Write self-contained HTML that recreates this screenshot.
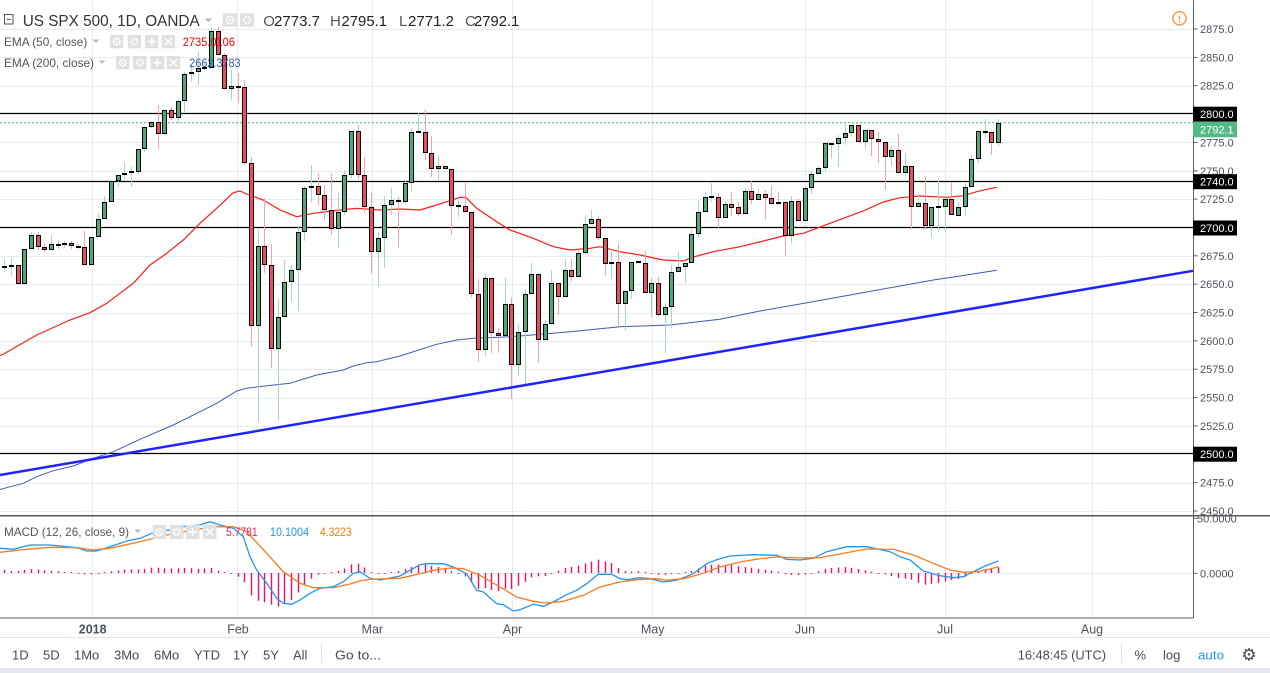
<!DOCTYPE html>
<html><head><meta charset="utf-8">
<style>
html,body{margin:0;padding:0;background:#fff;overflow:hidden;}
svg{display:block;font-family:"Liberation Sans",Arial,sans-serif;}
</style></head><body>
<svg id="s" width="1270" height="673" viewBox="0 0 1270 673" xmlns="http://www.w3.org/2000/svg">
<rect width="1270" height="673" fill="#ffffff"/>
<g id="grid"></g>
<g id="hlines"></g>
<g id="ind"></g>
<g id="candles"></g>
<g id="trend"></g>
<g id="macd"></g>

<!-- price axis -->
<line x1="1193.5" y1="0" x2="1193.5" y2="618" stroke="#5d5d5d" stroke-width="1"/>
<g id="ticks" stroke="#5d5d5d" stroke-width="1"></g>
<g font-size="11" fill="#4c525e">
<text x="1200" y="33">2875.0</text>
<text x="1200" y="61.4">2850.0</text>
<text x="1200" y="89.7">2825.0</text>
<text x="1200" y="146.4">2775.0</text>
<text x="1200" y="174.8">2750.0</text>
<text x="1200" y="203.1">2725.0</text>
<text x="1200" y="259.8">2675.0</text>
<text x="1200" y="288.2">2650.0</text>
<text x="1200" y="316.5">2625.0</text>
<text x="1200" y="344.9">2600.0</text>
<text x="1200" y="373.2">2575.0</text>
<text x="1200" y="401.6">2550.0</text>
<text x="1200" y="429.9">2525.0</text>
<text x="1200" y="486.6">2475.0</text>
<text x="1200" y="515">2450.0</text>
<text x="1197" y="522.3">50.0000</text>
<text x="1200" y="577.3">0.0000</text>
</g>
<rect x="1193" y="106.7" width="44" height="15" fill="#000"/>
<text x="1200" y="118.2" font-size="11" fill="#fff">2800.0</text>
<rect x="1193" y="121.7" width="44" height="15.6" fill="#53b987"/>
<text x="1200" y="133.4" font-size="11" fill="#fff">2792.1</text>
<rect x="1193" y="174.2" width="44" height="15" fill="#000"/>
<text x="1200" y="185.7" font-size="11" fill="#fff">2740.0</text>
<rect x="1193" y="220.5" width="44" height="15" fill="#000"/>
<text x="1200" y="232" font-size="11" fill="#fff">2700.0</text>
<rect x="1193" y="446.7" width="44" height="15" fill="#000"/>
<text x="1200" y="458.2" font-size="11" fill="#fff">2500.0</text>

<!-- warning icon -->
<circle cx="1179.5" cy="18.3" r="6.6" fill="#fff" stroke="#f7993b" stroke-width="1.4"/>
<text x="1179.5" y="22.3" font-size="10" font-weight="bold" fill="#f7993b" text-anchor="middle">!</text>

<!-- pane separators -->
<line x1="0" y1="515.8" x2="1270" y2="515.8" stroke="#5a5a5a" stroke-width="1.5"/>
<line x1="0" y1="618" x2="1193.5" y2="618" stroke="#5d5d5d" stroke-width="1"/>
<line x1="0" y1="637.5" x2="1270" y2="637.5" stroke="#e0e3eb" stroke-width="1"/>
<rect x="0" y="668" width="1270" height="5" fill="#e4e7ec"/>

<!-- header -->
<rect x="4.5" y="14.5" width="8.5" height="9.5" fill="none" stroke="#555" stroke-width="1"/>
<line x1="6.5" y1="19.3" x2="11" y2="19.3" stroke="#555" stroke-width="1"/>
<text x="22.7" y="26" font-size="15.5" fill="#333" textLength="177" lengthAdjust="spacingAndGlyphs">US SPX 500, 1D, OANDA</text>
<polygon points="205,18.5 212,18.5 208.5,22" fill="#b0b0b0"/>
<rect x="222.7" y="13.3" width="14.6" height="13.4" fill="#e0e0e0"/>
<circle cx="230" cy="20" r="3.6" fill="none" stroke="#fff" stroke-width="1.4"/><circle cx="230" cy="20" r="1.2" fill="#fff"/>
<rect x="240" y="13.3" width="14" height="13.4" fill="#e0e0e0"/>
<circle cx="247" cy="20" r="3.2" fill="none" stroke="#fff" stroke-width="2.2" stroke-dasharray="1.6 1"/>
<g font-size="15">
<text x="263.3" y="26" fill="#555">O</text><text x="274" y="26" fill="#222" textLength="46" lengthAdjust="spacingAndGlyphs">2773.7</text>
<text x="330" y="26" fill="#555">H</text><text x="341.5" y="26" fill="#222" textLength="45.5" lengthAdjust="spacingAndGlyphs">2795.1</text>
<text x="399" y="26" fill="#555">L</text><text x="408" y="26" fill="#222" textLength="46" lengthAdjust="spacingAndGlyphs">2771.2</text>
<text x="465" y="26" fill="#555">C</text><text x="474" y="26" fill="#222" textLength="45.3" lengthAdjust="spacingAndGlyphs">2792.1</text>
</g>

<g font-size="12" fill="#555">
<text x="4" y="46" textLength="83.3" lengthAdjust="spacingAndGlyphs">EMA (50, close)</text>
<text x="4" y="67" textLength="90" lengthAdjust="spacingAndGlyphs">EMA (200, close)</text>
</g>
<polygon points="92.7,39.5 99.3,39.5 96,43" fill="#b8b8b8"/>
<polygon points="98.7,60.5 105.3,60.5 102,64" fill="#b8b8b8"/>
<g id="icons"></g>
<text x="182.7" y="46" font-size="12" fill="#ff0000" textLength="52.3" lengthAdjust="spacingAndGlyphs">2735.0106</text>
<text x="189.3" y="67" font-size="12" fill="#3a5bb0" textLength="51.3" lengthAdjust="spacingAndGlyphs">2662.3783</text>

<text x="4" y="536" font-size="12" fill="#555" textLength="125" lengthAdjust="spacingAndGlyphs">MACD (12, 26, close, 9)</text>
<polygon points="134.5,529.5 141,529.5 137.7,533" fill="#b8b8b8"/>
<text x="226" y="536" font-size="12" fill="#e91e63" textLength="31.7" lengthAdjust="spacingAndGlyphs">5.7781</text>
<text x="270" y="536" font-size="12" fill="#2196f3" textLength="39" lengthAdjust="spacingAndGlyphs">10.1004</text>
<text x="320" y="536" font-size="12" fill="#f57c00" textLength="31.7" lengthAdjust="spacingAndGlyphs">4.3223</text>

<!-- time axis -->
<g font-size="12.5" fill="#4c525e" text-anchor="middle">
<text x="92.7" y="633.5" font-weight="bold">2018</text>
<text x="238" y="633.5">Feb</text>
<text x="372.3" y="633.5">Mar</text>
<text x="512.5" y="633.5">Apr</text>
<text x="652.7" y="633.5">May</text>
<text x="805" y="633.5">Jun</text>
<text x="945" y="633.5">Jul</text>
<text x="1092" y="633.5">Aug</text>
</g>

<!-- bottom toolbar -->
<g font-size="13" fill="#4a4a4a">
<text x="12" y="659.5">1D</text>
<text x="43" y="659.5">5D</text>
<text x="74" y="659.5">1Mo</text>
<text x="114" y="659.5">3Mo</text>
<text x="154" y="659.5">6Mo</text>
<text x="194" y="659.5">YTD</text>
<text x="233" y="659.5">1Y</text>
<text x="263" y="659.5">5Y</text>
<text x="293" y="659.5">All</text>
<text x="335" y="659.5" textLength="46" lengthAdjust="spacingAndGlyphs">Go to...</text>
<text x="1017.7" y="659.5" textLength="88.3" lengthAdjust="spacingAndGlyphs">16:48:45 (UTC)</text>
<text x="1134.5" y="659.5">%</text>
<text x="1163" y="659.5">log</text>
</g>
<text x="1198" y="659.5" font-size="13" fill="#2196f3" textLength="26" lengthAdjust="spacingAndGlyphs">auto</text>
<text x="1249" y="660.5" font-size="17" fill="#4a4a4a" text-anchor="middle" font-family="DejaVu Sans, sans-serif">⚙</text>
<line x1="321.5" y1="643" x2="321.5" y2="663" stroke="#e0e3eb"/>
<line x1="1121.5" y1="643" x2="1121.5" y2="663" stroke="#e0e3eb"/>
</svg>
<script>
(function(){
const NS='http://www.w3.org/2000/svg';
function el(p,t,a){const e=document.createElementNS(NS,t);for(const k in a)e.setAttribute(k,a[k]);p.appendChild(e);return e;}
const $=id=>document.getElementById(id);

// grid
const g=$('grid');
for(let p=2450;p<=2875;p+=25){
  if(p===2800||p===2700||p===2500) continue;
  const y=Math.round(29+(2875-p)*1.1341)+0.5;
  el(g,'line',{x1:0,y1:y,x2:1193,y2:y,stroke:'#e4ebf2','stroke-width':1});
}
el(g,'line',{x1:0,y1:573.5,x2:1193,y2:573.5,stroke:'#e4ebf2','stroke-width':1});
[92.5,237.5,372.5,512.5,652.5,805.5,945.5,1092.5].forEach(x=>{
  el(g,'line',{x1:x,y1:0,x2:x,y2:618,stroke:'#e4ebf2','stroke-width':1});
});
// ticks
const tk=$('ticks');
[29,57.4,85.7,113.5,142.4,170.8,199.1,227.5,255.8,284.2,312.5,340.9,369.2,397.6,425.9,454.2,482.6,511,518.3,573.3].forEach(y=>{
  el(tk,'line',{x1:1193.5,y1:y,x2:1197.5,y2:y});
});
// horizontal black lines
const hl=$('hlines');
[113.5,181.5,227.5,453.5].forEach(y=>el(hl,'line',{x1:0,y1:y,x2:1193,y2:y,stroke:'#000','stroke-width':1.3}));
el(hl,'line',{x1:0,y1:122.7,x2:1193,y2:122.7,stroke:'#3fae74','stroke-width':1,'stroke-dasharray':'2 2'});

// indicators
const ind=$('ind');
const ema200=[[0,489.5],[4.3,488.3],[23.3,483.3],[36.7,476.7],[53.3,470.7],[73.3,466],[93.3,458.3],[113.3,451.7],[140,439.3],[173.3,425],[196.7,413.3],[216.7,403.3],[236.7,391],[246.7,388.3],[266.7,385.7],[290,383.3],[316.7,375],[343.3,370],[353.3,366],[366.7,362.7],[376.7,361.7],[400,356],[436.7,344.3],[456.7,340],[473.3,338.3],[500,337.3],[520,336],[570,331.7],[620,326.7],[670,325],[720,319.3],[760,311],[800,304],[850,295],[900,286],[933.3,280],[960,276],[996.7,270.3]];
const ema50=[[0,355.5],[3.7,354],[36.7,335],[70,320],[90,312.7],[106.7,303.3],[120,293.3],[133.3,283.3],[150,265],[166.7,253.3],[183.3,240],[200,223.3],[216.7,208.3],[233.3,192.7],[240,191],[246.7,194],[263.3,200],[280,210],[296.7,216.7],[313.3,213.3],[340,210],[356.7,208.3],[380,210],[400,209],[420,210],[433.3,206],[446.7,201.7],[460,197.3],[466,197.5],[476.7,208.3],[496.7,221.7],[510,230],[533.3,238.3],[553.3,246.7],[570,250],[590,248.3],[600,246.7],[620,251.7],[640,255],[663.3,260],[683.3,261],[693.3,257],[713.3,251.7],[740,246.7],[763.3,241],[783.3,236],[803.3,233.3],[816.7,228.3],[843.3,218.3],[863.3,211],[883.3,202],[900,197.7],[920,196],[946.7,197.3],[963.3,195.7],[976.7,191.7],[986.7,189.3],[996.7,187.3]];
const pts=a=>a.map(p=>p[0]+','+p[1]).join(' ');
el(ind,'polyline',{points:pts(ema200),fill:'none',stroke:'#3f5bb0','stroke-width':1});
el(ind,'polyline',{points:pts(ema50),fill:'none',stroke:'#ff1a1a','stroke-width':1.2});

// candles
const C=[
[266,268.3,259.3,271.7,'g'],[265.7,265.7,258.3,276,'d'],[265,284.3,265,284.3,'r'],[249.3,284.3,249.3,284.3,'g'],[235,249.3,231.7,249.3,'g'],
[235,247.3,231.7,250,'r'],[247.3,250,244,252.3,'r'],[244,250,235,250,'g'],[245,245,240,249.3,'d'],[243.3,245.3,241,247.7,'g'],
[243.3,246,241,249.3,'r'],[246.7,246.7,244,249,'d'],[246.7,265,230.7,265,'r'],[236.7,265,236.7,265,'g'],[219.3,236.7,212.7,236.7,'g'],
[201.7,219.3,196,219.3,'g'],[181.3,201.7,181.3,201.7,'g'],[175.3,181.3,175.3,186.7,'g'],[172.7,175.3,161.7,179.3,'g'],[171.7,171.7,166.7,186.7,'d'],
[149.3,171.7,149.3,174,'g'],[127.3,149.3,126.7,151.7,'g'],[121.7,127.3,121.7,128.3,'g'],[121.7,134.3,105,149.3,'r'],[110,134.3,110,135,'g'],
[110,118.3,107.3,120,'r'],[100.7,118.3,99.3,123.3,'g'],[74.3,100.7,71.7,111.7,'g'],[71.7,74.3,65,81.7,'g'],[68.3,71.7,51.7,85,'g'],
[67.7,67.7,61.7,70,'d'],[30.7,67.7,26.7,67.7,'g'],[30.7,55,26.7,55,'r'],[55,89.3,53.3,89.3,'r'],[85.7,89.3,70,100,'g'],
[85.7,87.3,73.3,103.3,'r'],[87.3,163.3,80,165,'r'],[163.3,325.7,156.7,346.7,'r'],[246,325.7,229.3,421.7,'g'],[246,265.3,198.3,272.7,'r'],
[265.3,349.3,244,367.7,'r'],[317.3,349.3,299,420,'g'],[282.3,317.3,260,318.3,'g'],[270.3,282.3,265,301.7,'g'],[232.3,270.3,226.7,310.7,'g'],
[188.3,232.3,186,240.7,'g'],[186.3,188.3,165,201.7,'g'],[186.3,195.3,173.3,205,'r'],[195.3,210.3,185,220,'r'],[210.3,229.3,173.3,235,'r'],
[212.3,229.3,192.3,247.7,'g'],[175.3,212.3,170,215,'g'],[131.3,175.3,131.3,178.3,'g'],[131.3,175.3,125,179.3,'r'],[175.3,206.7,156.7,212.7,'r'],
[206.7,251.7,192.3,273.3,'r'],[238.3,251.7,231.7,286.7,'g'],[205.3,238.3,196,267.7,'g'],[200,205.3,188.3,215,'g'],[200,202.3,196.7,247.7,'r'],
[183.3,202.3,180.7,203.3,'g'],[132.3,183.3,128.3,191.7,'g'],[132.3,132.3,112.7,132.3,'d'],[132.3,153.3,110,160,'r'],[153.3,169.3,136,176.7,'r'],
[166.3,169.3,156,180.7,'g'],[166.3,169.3,166.3,169.3,'r'],[169.3,206.3,169.3,235,'r'],[205.7,205.7,200,216.7,'d'],[205.7,212.3,183.3,213.3,'r'],
[212.3,294,212.3,297.3,'r'],[294,350.3,279.3,361.7,'r'],[278.3,350.3,273.3,356,'g'],[278.3,333.3,278.3,352.7,'r'],[333.3,336,328.3,352.7,'r'],
[304.3,336,277.7,336,'g'],[304.3,365.3,297.7,399.3,'r'],[331.7,365.3,324.3,375.7,'g'],[294.3,331.7,289,385.7,'g'],[274.3,294.3,263.3,294.3,'g'],
[274.3,340.3,274.3,362.7,'r'],[324.3,340.3,320,340.3,'g'],[283.3,324.3,270,324.3,'g'],[283.3,297.3,283.3,315,'r'],[270,297.3,259,297.3,'g'],
[270,277.3,259,281.7,'r'],[253.3,277.3,250,277.3,'g'],[224.3,253.3,215,255,'g'],[219.3,224.3,210,224.3,'g'],[219.3,238.3,216,240,'r'],
[238.3,264.3,238.3,276,'r'],[262.3,264.3,249.3,279,'g'],[262.3,304.3,243.3,325.7,'r'],[291,304.3,291,330.7,'g'],[262.3,291,262.3,299,'g'],
[262.3,262.3,262.3,263.3,'d'],[263.3,293.3,250.7,293.3,'r'],[283.3,293.3,277.7,316.7,'g'],[283.3,315,276.7,316.7,'r'],[307.3,315,303.3,353.3,'g'],
[272.3,307.3,265,328.3,'g'],[266.7,272.3,251.7,272.3,'g'],[263.3,266.7,263.3,283.3,'g'],[234.3,263.3,230,263.3,'g'],[211.7,234.3,200,237.7,'g'],
[197.3,211.7,191.7,211.7,'g'],[197.3,197.3,183.3,201.7,'d'],[197.3,218.3,193.3,228.3,'r'],[204.3,218.3,201,218.3,'g'],[204.3,207.7,191.7,216,'r'],
[207.3,214.3,201.7,216,'r'],[191,214.3,187.7,214.3,'g'],[191,200.3,181,204.3,'r'],[194.3,200.3,189.3,200.3,'g'],[194.3,197.7,190,220,'r'],
[197.7,204.3,186,204.3,'r'],[202.3,204.3,191.7,204.3,'r'],[202.3,235.7,201,255.7,'r'],[201,235.7,196,243.3,'g'],[201,220.7,199,220.7,'r'],
[188.3,220.7,186,220.7,'g'],[174.3,188.3,171,194.3,'g'],[168.3,174.3,166,174.3,'g'],[143.3,168.3,143.3,171,'g'],[144,144,143.3,158.3,'d'],
[137.7,144,135,166.7,'g'],[133.3,137.7,124,145,'g'],[125,133.3,125,136.7,'g'],[125,141.7,125,141.7,'r'],[130,141.7,130,149.3,'g'],
[130,139.3,130,156,'r'],[139.3,141.7,131.7,163.3,'r'],[141.7,156.7,141.7,190,'r'],[150,156.7,146,166,'g'],[150,173.3,134,173.3,'r'],
[166,173.3,152.7,176.7,'g'],[166,206.7,166,229.3,'r'],[203.3,206.7,193.3,206.7,'g'],[203.3,226,176,229.3,'r'],[207.3,226,207.3,237.7,'g'],
[207.3,207.3,179.3,231.7,'d'],[199.3,207.3,199.3,231.7,'g'],[199.3,215,182.7,215,'r'],[206.7,215.7,202.7,215.7,'g'],[187.3,206.7,183.3,215.7,'g'],
[159.3,187.3,155,187.3,'g'],[131,159.3,131,163.3,'g'],[131.7,131.7,119.3,137.3,'d'],[131.7,143.3,131.7,155,'r'],[122.7,143.3,119.3,146,'g']
];
const cg=$('candles');
C.forEach((c,i)=>{
  const x=4.3+6.67*i;
  const cx=Math.round(x)+0.5;
  const wc=c[4]==='r'?'#f2a3ac':'#a5d8bf';
  el(cg,'line',{x1:cx,y1:c[2],x2:cx,y2:c[3],stroke:wc,'stroke-width':1});
  const x0=Math.round(x)-2;
  if(c[4]==='d'){
    el(cg,'rect',{x:x0,y:Math.round(c[0])-1,width:5,height:2,fill:'#000'});
  } else {
    const t=Math.round(c[0]), b=Math.max(Math.round(c[1]),t+2);
    el(cg,'rect',{x:x0,y:t,width:5,height:b-t,fill:'#000'});
    if(b-t>2) el(cg,'rect',{x:x0+1,y:t+1,width:3,height:b-t-2,fill:c[4]==='r'?'#e84e5d':'#4fa879'});
  }
});

// trend line
el($('trend'),'line',{x1:0,y1:475,x2:1193,y2:270.8,stroke:'#1f24ff','stroke-width':2.5});

// MACD
const blue=[[0,548.3],[13.3,549.3],[30,545],[50,545],[76.7,547.7],[86.7,551],[96.7,551],[110,546.7],[126.7,541],[140,538.3],[153.3,532.7],[173.3,529.3],[186.7,526],[200,525],[210,521.7],[220,525],[233.3,528.3],[243.3,536.7],[250,556.7],[256.7,570],[266.7,583.3],[276.7,598.3],[283.3,603.3],[291.7,604.3],[300,600],[310,593.3],[320,588.3],[333.3,586.7],[343.3,581.7],[353.3,573.3],[360,571.7],[370,578.3],[380,580],[400,576],[410,570.3],[420,564.7],[426.7,563.7],[443.3,563.7],[453.3,567],[466.7,573.7],[476.7,590.3],[483.3,592],[496.7,603.7],[503.3,604.7],[513.3,611],[520,609.7],[533.3,604.3],[543.3,606.3],[553.3,602],[566.7,594.7],[576.7,590.3],[586.7,583.7],[598.3,574.3],[611.7,574.3],[620,578.7],[626.7,579.7],[640,577.7],[650,578.7],[663.3,582],[676.7,580.3],[693.3,573.7],[706.7,563.7],[716.7,559.7],[730,556],[753.3,554.7],[776.7,555.3],[786.7,559.3],[800,560],[813.3,558.3],[826.7,551.7],[846.7,546.7],[866.7,546.7],[890,551.7],[900,556.7],[910,560],[923.3,571],[940,575.7],[953.3,577.7],[963.3,576.7],[973.3,571.7],[985,566],[998.3,561]];
const orange=[[0,552.3],[20,550],[50,547.3],[76.7,547.7],[93.3,550],[110,548.3],[140,541.7],[166.7,535],[193.3,530],[213.3,526.7],[233.3,526.7],[246.7,531.7],[266.7,553.3],[283.3,571.7],[300,583.3],[313.3,587.7],[333.3,587.7],[350,584],[360,581],[370,579.3],[400,578.3],[420,573.7],[433.3,570.3],[450,568],[463.3,568.7],[480,575.3],[500,587],[516.7,597],[533.3,601.3],[546.7,603],[563.3,601.3],[583.3,595.3],[600,587],[620,582],[636.7,579.7],[656.7,578.7],[666.7,580.3],[683.3,578.7],[700,574.3],[720,567],[740,562],[760,558.7],[776.7,557],[800,558],[820,557.7],[840,554],[866.7,549],[893.3,549.3],[913.3,555],[933.3,563.3],[950,570],[963.3,572.3],[976.7,571.7],[990,569],[998.3,566.7]];
function interp(a,x){for(let k=0;k<a.length-1;k++){if(x>=a[k][0]&&x<=a[k+1][0]){const t=(x-a[k][0])/(a[k+1][0]-a[k][0]);return a[k][1]+t*(a[k+1][1]-a[k][1]);}}return a[a.length-1][1];}
const mg=$('macd');
for(let i=0;i<150;i++){
  const x=4.3+6.67*i, cx=Math.round(x)+0.5;
  let d=interp(blue,x)-interp(orange,x);
  if(Math.abs(d)<1) d=d<0?-1:1;
  el(mg,'line',{x1:cx,y1:573,x2:cx,y2:573+d,stroke:'#f50c63','stroke-width':1.4});
}
el(mg,'polyline',{points:pts(blue),fill:'none',stroke:'#2196f3','stroke-width':1.3});
el(mg,'polyline',{points:pts(orange),fill:'none',stroke:'#f57c1f','stroke-width':1.3});

// legend icon boxes
const ic=$('icons');
function boxes(xs,y,h,w){
  xs.forEach((x,k)=>{
    el(ic,'rect',{x:x,y:y,width:w,height:h,fill:'#e0e0e0'});
    const cx=x+w/2, cy=y+h/2;
    if(k===0){el(ic,'circle',{cx:cx,cy:cy,r:3.3,fill:'none',stroke:'#fff','stroke-width':1.4});el(ic,'circle',{cx:cx,cy:cy,r:1.1,fill:'#fff'});}
    else if(k===1){el(ic,'circle',{cx:cx,cy:cy,r:3,fill:'none',stroke:'#fff','stroke-width':2.2,'stroke-dasharray':'1.6 1'});}
    else if(k===2){el(ic,'line',{x1:cx-4,y1:cy,x2:cx+4,y2:cy,stroke:'#fff','stroke-width':1.8});el(ic,'line',{x1:cx,y1:cy-4,x2:cx,y2:cy+4,stroke:'#fff','stroke-width':1.8});}
    else {el(ic,'line',{x1:cx-3.5,y1:cy-3.5,x2:cx+3.5,y2:cy+3.5,stroke:'#fff','stroke-width':1.4});el(ic,'line',{x1:cx+3.5,y1:cy-3.5,x2:cx-3.5,y2:cy+3.5,stroke:'#fff','stroke-width':1.4});}
  });
}
boxes([110,127.7,145,161.7],35,13.3,13.3);
boxes([116,133,150.7,166.7],56,13.3,13.5);
boxes([152.7,170,186,203],525,14,13.5);
})();
</script>
</body></html>
